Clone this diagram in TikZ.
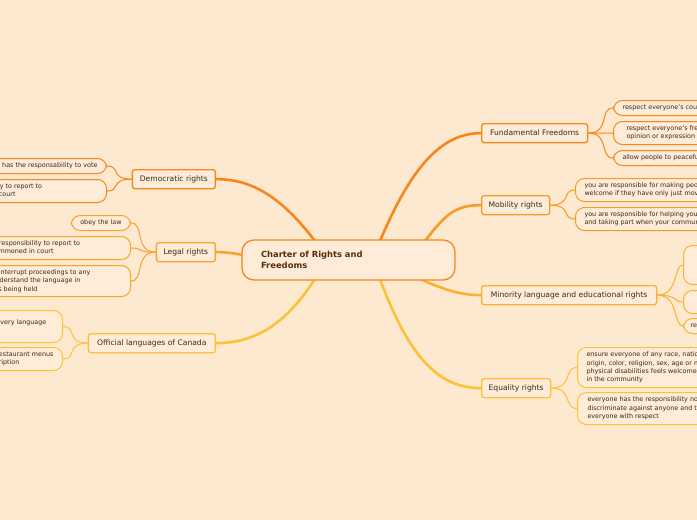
\documentclass[tikz,border=0pt]{standalone}
\usepackage{fontspec}
\setmainfont{DejaVu Sans}
\begin{document}
\begin{tikzpicture}[x=1pt,y=-1pt,
  br/.style={draw, rounded corners=2.5pt, fill=nodefill, line width=1.3pt, font=\fontsize{7.6}{8}\selectfont, text=txt, inner xsep=4pt, minimum height=19pt},
  leaf/.style={draw, rounded corners=9pt, fill=nodefill, line width=1pt, font=\fontsize{6.4}{8.4}\selectfont, text=txt, align=left, inner xsep=9pt, inner ysep=2pt},
  lk/.style={line width=1pt},
  bk/.style={line width=2.6pt, line cap=round}]
\definecolor{bg}{HTML}{FDE8D0}
\definecolor{nodefill}{HTML}{FEECD8}
\definecolor{txt}{HTML}{3A2A1A}
\definecolor{cen}{HTML}{5A2E08}
\definecolor{cA}{HTML}{F7861B}
\definecolor{cB}{HTML}{F99A27}
\definecolor{cC}{HTML}{FBB12F}
\definecolor{cD}{HTML}{FDC233}
\definecolor{cE}{HTML}{FAA22A}
\useasboundingbox (0,0) rectangle (697,520);
\clip (0,0) rectangle (697,520);
\fill[bg] (0,0) rectangle (697,520);
\coordinate (s1) at (380,241); \coordinate (s2) at (425,241);
\coordinate (s3) at (420,279); \coordinate (s4) at (380,279);
\coordinate (s5) at (315,241); \coordinate (s6) at (243,255);
\coordinate (s7) at (315,279);
\node[br, draw=cA, anchor=north west, minimum width=106pt] (fund) at (481,123) {Fundamental Freedoms};
\node[br, draw=cB, anchor=north west, minimum width=68pt] (mob) at (481,195) {Mobility rights};
\node[br, draw=cC, anchor=north west, minimum width=175pt] (min) at (481,285) {Minority language and educational rights};
\node[br, draw=cD, anchor=north west, minimum width=69pt] (eq) at (481,378) {Equality rights};
\node[br, draw=cA, anchor=north east, minimum width=83pt] (dem) at (216,169) {Democratic rights};
\node[br, draw=cE, anchor=north east, minimum width=59pt] (leg) at (216,242) {Legal rights};
\node[br, draw=cD, anchor=north east, minimum width=127pt] (off) at (216,333) {Official languages of Canada};
\draw[bk, cA] (s1) .. controls (410,170) and (440,133) .. (fund.west);
\draw[bk, cB] (s2) .. controls (445,215) and (455,205) .. (mob.west);
\draw[bk, cC] (s3) .. controls (445,290) and (460,295) .. (min.west);
\draw[bk, cD] (s4) .. controls (410,360) and (440,388) .. (eq.west);
\draw[bk, cA] (s5) .. controls (280,195) and (250,179) .. (dem.east);
\draw[bk, cE] (s6) .. controls (232,253) and (225,252) .. (leg.east);
\draw[bk, cD] (s7) .. controls (285,325) and (255,343) .. (off.east);
\node[draw=cA, line width=1.3pt, rounded corners=12pt, fill=nodefill, minimum width=213pt, minimum height=40pt, text width=175pt, align=left, font=\bfseries\fontsize{8.4}{11}\selectfont, text=cen] (center) at (348.5,260) {Charter of Rights and\\Freedoms};
\node[leaf, draw=cA, anchor=north west, minimum height=15pt] (f1) at (613,100) {respect everyone's country of origin};
\node[leaf, draw=cA, anchor=north west, minimum height=23pt] (f2) at (613,121) {\hspace*{4pt}respect everyone's freedom of\\\hspace*{4pt}opinion or expression};
\node[leaf, draw=cA, anchor=north west, minimum height=15pt] (f3) at (613,150) {allow people to  peacefully assemble};
\node[leaf, draw=cB, anchor=north west, minimum height=23pt] (m1) at (575,178) {you are responsible for making people feel\\welcome if they have only just moved here};
\node[leaf, draw=cB, anchor=north west, minimum height=23pt] (m2) at (575,207) {you are responsible for helping your community\\and taking part when your community needs it};
\node[leaf, draw=cC, anchor=north west, minimum height=39pt, minimum width=60pt] (n1) at (683,245) {};
\node[leaf, draw=cC, anchor=north west, minimum height=23pt, minimum width=60pt] (n2) at (683,290) {};
\node[leaf, draw=cC, anchor=north west, minimum height=15pt, inner xsep=7pt] (n3) at (683,318) {respect};
\node[leaf, draw=cD, anchor=north west, minimum height=40pt] (e1) at (577,347) {ensure everyone of any race, national or ethnic\\origin, color, religion, sex, age or mental or\\physical disabilities feels welcomed and included\\in the community};
\node[leaf, draw=cD, anchor=north west, minimum height=32pt] (e2) at (577,392) {\hspace*{1pt}everyone has the responsibility not to\\\hspace*{1pt}discriminate against anyone and to treat\\\hspace*{1pt}everyone with respect};
\node[leaf, draw=cA, anchor=north east, minimum height=15pt] (d1) at (107,158) {everyone has the responsability to vote};
\node[leaf, draw=cA, anchor=north east, minimum height=23pt] (d2) at (107,179) {everyone has the responsibility to report to\\jury duty when summoned in court\hspace*{82pt}};
\node[leaf, draw=cE, anchor=north east, minimum height=15pt] (l1) at (131,215) {obey the law};
\node[leaf, draw=cE, anchor=north east, minimum height=23pt] (l2) at (131,236) {everyone has the responsibility to report to\\jury duty when summoned in court\hspace*{68pt}};
\node[leaf, draw=cE, anchor=north east, minimum height=31pt] (l3) at (131,265) {you are responsible to interrupt proceedings to any\\reason if you do not understand the language in\\which the proceeding is being held\hspace*{84pt}};
\node[leaf, draw=cD, anchor=north east, minimum height=32pt] (o1) at (63,310) {make people of every language\\feel welcomed\hspace*{62pt}};
\node[leaf, draw=cD, anchor=north east, minimum height=23pt] (o2) at (63,347) {read bilingual restaurant menus\\and other description};
\foreach \l in {f1,f2,f3} \draw[lk,cA] (fund.east) .. controls +(22,0) and +(-14,0) .. (\l.west);
\foreach \l in {m1,m2} \draw[lk,cB] (mob.east) .. controls +(22,0) and +(-14,0) .. (\l.west);
\foreach \l in {n1,n2,n3} \draw[lk,cC] (min.east) .. controls +(22,0) and +(-10,0) .. (\l.west);
\foreach \l in {e1,e2} \draw[lk,cD] (eq.east) .. controls +(22,0) and +(-14,0) .. (\l.west);
\foreach \l in {d1,d2} \draw[lk,cA] (dem.west) .. controls +(-22,0) and +(14,0) .. (\l.east);
\foreach \l in {l1,l2,l3} \draw[lk,cE] (leg.west) .. controls +(-22,0) and +(14,0) .. (\l.east);
\foreach \l in {o1,o2} \draw[lk,cD] (off.west) .. controls +(-22,0) and +(14,0) .. (\l.east);
\end{tikzpicture}
\end{document}
